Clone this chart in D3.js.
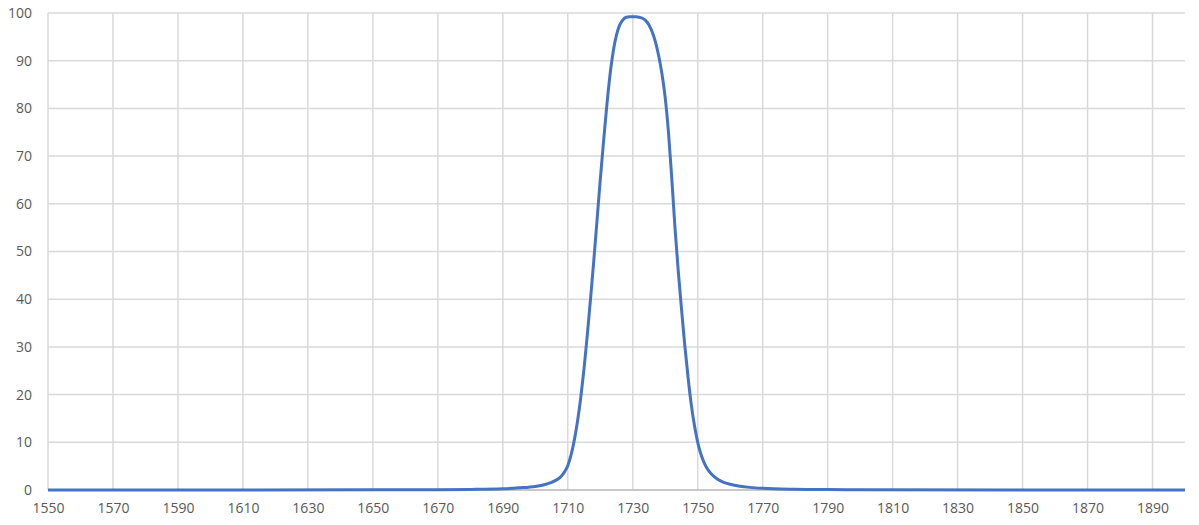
<!DOCTYPE html>
<html>
<head>
<meta charset="utf-8">
<script src="https://cdn.jsdelivr.net/npm/d3@7"></script>
<style>
  body { margin: 0; background: #fff; }
  svg text { font-family: "Open Sans", "Liberation Sans", sans-serif; }
</style>
</head>
<body>
<svg width="1199" height="525"></svg>
<script>
// wavelength (x) and transmission (y)
const wavelengths = [1550, 1600, 1650, 1670, 1680, 1690, 1695, 1700, 1703, 1705, 1707, 1708, 1709,
  1710, 1711, 1712, 1713, 1714, 1715, 1716, 1717, 1718, 1719, 1720, 1721, 1722, 1723, 1724, 1725,
  1726, 1727, 1728, 1729, 1730, 1731, 1732, 1733, 1734, 1735, 1736, 1737, 1738, 1739, 1740, 1741,
  1742, 1743, 1744, 1745, 1746, 1747, 1748, 1749, 1750, 1751, 1752, 1753, 1754, 1756, 1758, 1760,
  1763, 1766, 1770, 1780, 1790, 1800, 1850, 1900];
const values = [0.0, 0.01, 0.03, 0.07, 0.12, 0.25, 0.45, 0.75, 1.15, 1.6, 2.3, 2.9, 3.8,
  5.1, 7.3, 10.4, 14.4, 19.4, 25.4, 32.4, 40, 48, 56.5, 65, 73, 80.5, 87, 92, 95.4,
  97.5, 98.6, 99.1, 99.2, 99.2, 99.2, 99.1, 98.9, 98.4, 97.5, 96, 93.9, 91, 87.2, 82.2, 75,
  65.5, 55, 46, 38, 30.5, 23.8, 18, 13.5, 10, 7.5, 5.7, 4.4, 3.5, 2.3, 1.6, 1.2,
  0.8, 0.55, 0.35, 0.15, 0.08, 0.05, 0.02, 0.01];
const xTicks = d3.range(1550, 1900, 20);   // 1550 ... 1890
const yTicks = d3.range(0, 101, 10);

const data = wavelengths.map((w, i) => ({ w, v: values[i] }));

const margin = { top: 13, right: 14, bottom: 35, left: 48 };
const width = 1199 - margin.left - margin.right;
const height = 525 - margin.top - margin.bottom;

const svg = d3.select("svg")
  .append("g")
  .attr("transform", `translate(${margin.left},${margin.top})`);

const x = d3.scaleLinear().domain([1550, 1900]).range([0, width]);
const y = d3.scaleLinear().domain([0, 100]).range([height, 0]);

// grid
svg.append("g")
  .selectAll("line")
  .data(yTicks)
  .join("line")
  .attr("x1", 0).attr("x2", width)
  .attr("y1", d => y(d)).attr("y2", d => y(d))
  .attr("stroke", "#d9d9d9").attr("stroke-width", 1.5);

svg.append("g")
  .selectAll("line")
  .data(xTicks)
  .join("line")
  .attr("x1", d => x(d)).attr("x2", d => x(d))
  .attr("y1", 0).attr("y2", height)
  .attr("stroke", "#d9d9d9").attr("stroke-width", 1.5);

// bottom axis line
svg.append("line")
  .attr("x1", 0).attr("x2", width)
  .attr("y1", height).attr("y2", height)
  .attr("stroke", "#bfbfbf").attr("stroke-width", 1.5);

// axes (labels only)
const xAxis = svg.append("g")
  .attr("transform", `translate(0,${height})`)
  .call(d3.axisBottom(x).tickValues(xTicks).tickFormat(d3.format("d")).tickSize(0).tickPadding(13));
xAxis.select(".domain").remove();
xAxis.selectAll("text").attr("fill", "#595959").style("font-size", "14px");

const yAxis = svg.append("g")
  .call(d3.axisLeft(y).tickValues(yTicks).tickSize(0).tickPadding(16));
yAxis.select(".domain").remove();
yAxis.selectAll("text").attr("fill", "#595959").style("font-size", "14px");

// curve
const line = d3.line()
  .x(d => x(d.w))
  .y(d => y(d.v))
  .curve(d3.curveMonotoneX);

svg.append("path")
  .datum(data)
  .attr("fill", "none")
  .attr("stroke", "#4472c4")
  .attr("stroke-width", 3)
  .attr("stroke-linejoin", "round")
  .attr("d", line);
</script>
</body>
</html>
